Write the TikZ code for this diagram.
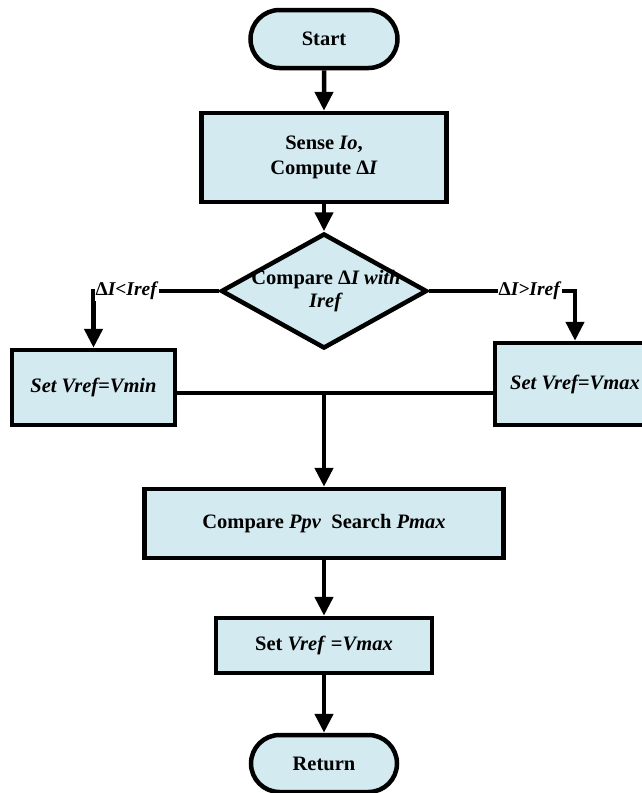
\documentclass[tikz,border=0pt]{standalone}
\usepackage{fontspec}
\setmainfont{Liberation Serif}
\usetikzlibrary{shapes.geometric,shapes.misc,arrows.meta}
\definecolor{boxfill}{RGB}{211,234,240}
\tikzset{
  base/.style={draw=black, line width=4.5pt, fill=boxfill, font=\fontsize{20.5}{25}\selectfont\bfseries, align=center, inner sep=0pt},
  term/.style={base, rounded rectangle},
  proc/.style={base, rectangle},
  decision/.style={base, diamond},
  conn/.style={line width=4.5pt, -{Triangle[width=18pt,length=19pt]}},
  plain/.style={line width=4.5pt},
  lbl/.style={fill=white, inner sep=1pt, font=\fontsize{19.5}{22}\selectfont\bfseries}
}
\begin{document}
\begin{tikzpicture}[x=1pt,y=-1pt]
\useasboundingbox (0,0) rectangle (642,793);
\node[term, minimum width=147pt, minimum height=58pt] (start) at (324,39) {Start};
\node[proc, minimum width=245pt, minimum height=89pt] (sense) at (324,157.5) {Sense \textit{Io},\\Compute Δ\textit{I}};
\node[decision, minimum width=206pt, minimum height=115pt] (dec) at (324,291) {};
\node[font=\fontsize{20.5}{23}\selectfont\bfseries, align=center] (dect) at (326,291) {Compare Δ\textit{I with}\\\textit{Iref}};
\node[proc, minimum width=163pt, minimum height=75pt] (lb) at (93.5,387.5) {\textit{Set Vref=Vmin}};
\node[proc, minimum width=160pt, minimum height=82pt] (rb) at (575,384) {\textit{Set Vref=Vmax}};
\node[proc, minimum width=359pt, minimum height=69pt] (cmp) at (324,523.5) {Compare \textit{Ppv}\ \ Search \textit{Pmax}};
\node[proc, minimum width=216pt, minimum height=55pt] (set) at (324,645.5) {Set \textit{Vref} =\textit{Vmax}};
\node[term, minimum width=146pt, minimum height=57pt] (ret) at (324,763.5) {Return};
\coordinate (lc) at (93.5,291);
\coordinate (rc) at (575,291);
\coordinate (j) at (324,393);
\draw[conn] (start) -- (sense);
\draw[conn] (sense) -- (dec.north);
\draw[conn] (dec.west) -- (lc) -- (lb.north);
\draw[conn] (dec.east) -- (rc) -- (rb.north);
\node[lbl] (ll) at (127,291) {Δ\textit{I<Iref}};
\node[lbl] (rl) at (530,291) {Δ\textit{I>Iref}};
\draw[plain] (lb.east |- j) -- (rb.west |- j);
\draw[conn] (j) -- (cmp.north);
\draw[conn] (cmp) -- (set);
\draw[conn] (set) -- (ret);
\end{tikzpicture}
\end{document}
